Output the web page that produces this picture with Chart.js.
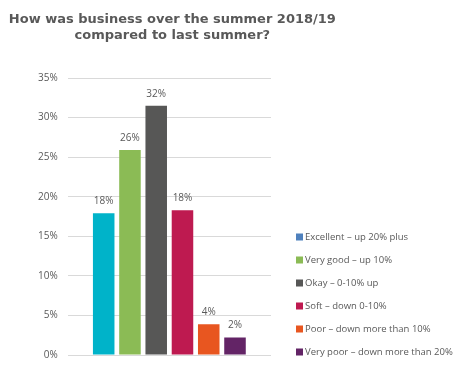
<!DOCTYPE html>
<html><head><meta charset="utf-8">
<script src="https://cdn.jsdelivr.net/npm/chart.js@4"></script>
<style>html,body{margin:0;padding:0;background:#fff}#w{width:464px;height:376px}</style>
</head><body><div id="w"><canvas id="c"></canvas></div>
<script>
const categories = ["Excellent – up 20% plus","Very good – up 10%","Okay – 0-10% up","Soft – down 0-10%","Poor – down more than 10%","Very poor – down more than 20%"];
const values = [17.9, 25.9, 31.5, 18.3, 3.9, 2.2];
const barColors = ["#00b3c9","#8bbb55","#575756","#be1a50","#e85620","#632466"];
const legendColors = ["#4f81bd","#8bbb55","#575756","#be1a50","#e85620","#632466"];
const yTicks = [0,5,10,15,20,25,30,35];
const title = ["How was business over the summer 2018/19","compared to last summer?"];

const FONT = "'Open Sans', sans-serif";
const GREY = "#595959";

const valueLabels = {
  id:'valueLabels',
  afterDatasetsDraw(chart){
    const ctx = chart.ctx;
    ctx.save();
    ctx.font = "10px " + FONT;
    ctx.fillStyle = GREY;
    ctx.textAlign = 'center';
    ctx.textBaseline = 'bottom';
    chart.data.datasets.forEach((ds, i) => {
      const meta = chart.getDatasetMeta(i);
      meta.data.forEach((el, j) => {
        ctx.fillText(Math.round(ds.data[j]) + '%', el.x, el.y - 7);
      });
    });
    ctx.restore();
  }
};

const sideLegend = {
  id:'sideLegend',
  afterDraw(chart){
    const ctx = chart.ctx;
    const a = chart.chartArea;
    const n = chart.data.datasets.length;
    const step = 23;
    const x = a.right + 25;
    ctx.save();
    ctx.font = "9.5px " + FONT;
    ctx.textBaseline = 'middle';
    ctx.textAlign = 'left';
    chart.data.datasets.forEach((ds, i) => {
      const cy = a.bottom - 3 - (n - 1 - i) * step;
      ctx.fillStyle = legendColors[i];
      ctx.fillRect(x, cy - 3.5, 7, 7);
      ctx.fillStyle = GREY;
      ctx.fillText(ds.label, x + 9, cy);
    });
    ctx.restore();
  }
};

const topTitle = {
  id:'topTitle',
  afterDraw(chart){
    const ctx = chart.ctx;
    const a = chart.chartArea;
    const cx = (a.left + a.right) / 2 + 3;
    ctx.save();
    ctx.font = "bold 13px 'DejaVu Sans', sans-serif";
    ctx.fillStyle = GREY;
    ctx.textAlign = 'center';
    ctx.textBaseline = 'middle';
    title.forEach((t, i) => ctx.fillText(t, cx, 20 + i * 16));
    ctx.restore();
  }
};

new Chart(document.getElementById('c'), {
  type:'bar',
  data:{
    labels:[''],
    datasets: categories.map((c,i)=>({label:c, data:[values[i]], backgroundColor:barColors[i], borderWidth:0}))
  },
  options:{
    responsive:true, maintainAspectRatio:false, animation:false,
    datasets:{bar:{categoryPercentage:0.775, barPercentage:0.82}},
    layout:{padding:{left:28, right:193, top:78, bottom:7}},
    plugins:{
      tooltip:{enabled:false},
      legend:{display:false},
      title:{display:false}
    },
    scales:{
      x:{grid:{display:false}, border:{display:false}, ticks:{display:false}, afterFit(s){s.height=14;}},
      y:{min:0, max:35, afterBuildTicks(s){s.ticks = yTicks.map(v=>({value:v}));},
        grid:{color:'#d9d9d9', drawTicks:false}, border:{display:false},
        ticks:{padding:10, color:GREY, font:{family:FONT, size:10}, callback:v=>v+'%'}}
    }
  },
  plugins:[valueLabels, sideLegend, topTitle]
});
</script></body></html>
